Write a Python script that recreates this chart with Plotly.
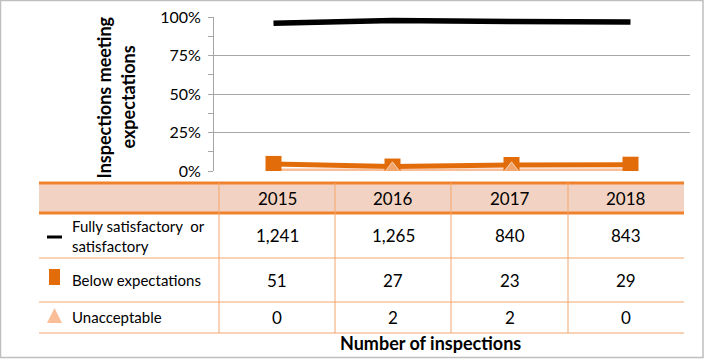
import plotly.graph_objects as go

W, H = 705, 359

years = ["2015", "2016", "2017", "2018"]
series_names = ["Fully satisfactory  or<br>satisfactory", "Below expectations", "Unacceptable"]
counts_full = ["1,241", "1,265", "840", "843"]
counts_below = ["51", "27", "23", "29"]
counts_unacc = ["0", "2", "2", "0"]
pct_full = [96.0, 97.8, 97.1, 96.7]
pct_below = [4.6, 2.9, 3.9, 4.1]
pct_unacc = [0.4, 0.4, 0.4, 0.4]
unacc_marker_size = [0, 17, 17, 0]
y_ticks = [0, 25, 50, 75, 100]
y_tick_labels = ["0%", "25%", "50%", "75%", "100%"]

FONT = "Lato"
BLACK = "#000000"
ORANGE = "#E36C0A"
PEACH = "#F9BE98"
GRID = "#A6A6A6"
TABLE_LINE = "#F0822E"
HEADER_BG = "#F2D2C2"

def px(x):
    return x / W

def py(y):
    return 1 - y / H

fig = go.Figure()
fig.add_trace(go.Scatter(x=years, y=pct_full, mode="lines",
                         line=dict(color=BLACK, width=5.5), showlegend=False))
fig.add_trace(go.Scatter(x=years, y=pct_unacc, mode="lines",
                         line=dict(color=PEACH, width=4), showlegend=False))
fig.add_trace(go.Scatter(x=years, y=pct_below, mode="lines+markers",
                         line=dict(color=ORANGE, width=5),
                         marker=dict(symbol="square", size=16, color=ORANGE),
                         showlegend=False))
fig.add_trace(go.Scatter(x=years, y=pct_unacc, mode="markers",
                         marker=dict(symbol="triangle-up", size=unacc_marker_size, color=PEACH),
                         showlegend=False))

shapes = []
annotations = []

def note(x, y, text, size=16, xanchor="center", angle=0, align="center"):
    annotations.append(dict(x=px(x), y=py(y), xref="paper", yref="paper",
                            text=text, showarrow=False, xanchor=xanchor,
                            yanchor="middle", textangle=angle, align=align,
                            font=dict(family=FONT, size=size, color="#000")))

# outer frame
shapes.append(dict(type="rect", xref="paper", yref="paper",
                   x0=px(0.5), x1=px(703), y0=py(357.5), y1=py(0.5),
                   line=dict(color="#BFBFBF", width=1.5)))

# table geometry
col_edges = [39, 219, 335, 451, 568, 684]
row_edges = [183, 213, 258, 302, 333]

shapes.append(dict(type="rect", xref="paper", yref="paper",
                   x0=px(col_edges[0]), x1=px(col_edges[-1]),
                   y0=py(row_edges[1]), y1=py(row_edges[0]),
                   fillcolor=HEADER_BG, line=dict(width=0), layer="below"))
for yy in row_edges[:2]:
    shapes.append(dict(type="line", xref="paper", yref="paper",
                       x0=px(col_edges[0]), x1=px(col_edges[-1]),
                       y0=py(yy), y1=py(yy), line=dict(color=TABLE_LINE, width=3)))
for yy in row_edges[2:]:
    shapes.append(dict(type="line", xref="paper", yref="paper",
                       x0=px(col_edges[0]), x1=px(col_edges[-1]),
                       y0=py(yy), y1=py(yy), line=dict(color="#F4A46A", width=1)))
for xx in col_edges[1:-1]:
    shapes.append(dict(type="line", xref="paper", yref="paper",
                       x0=px(xx), x1=px(xx),
                       y0=py(row_edges[0]), y1=py(row_edges[-1]),
                       line=dict(color="#F4A46A", width=1)))

# legend symbols
shapes.append(dict(type="line", xref="paper", yref="paper",
                   x0=px(47), x1=px(62), y0=py(237), y1=py(237),
                   line=dict(color=BLACK, width=3)))
shapes.append(dict(type="rect", xref="paper", yref="paper",
                   x0=px(49), x1=px(60), y0=py(285), y1=py(269),
                   fillcolor=ORANGE, line=dict(width=0)))
shapes.append(dict(type="path", xref="paper", yref="paper",
                   path=f"M {px(47)},{py(323)} L {px(62)},{py(323)} L {px(54.5)},{py(308)} Z",
                   fillcolor=PEACH, line=dict(width=0)))

for i, yr in enumerate(years):
    cx = (col_edges[i + 1] + col_edges[i + 2]) / 2
    note(cx, 198, yr, size=17)

row_centers = [235.5, 280, 317]
rows = [counts_full, counts_below, counts_unacc]
for r, vals in enumerate(rows):
    for i, v in enumerate(vals):
        cx = (col_edges[i + 1] + col_edges[i + 2]) / 2
        note(cx, row_centers[r], v, size=17)
    note(70, row_centers[r], series_names[r], size=15, xanchor="left", align="left")

note(430, 343, "<b>Number of inspections</b>", size=18)
note(103.5, 97, "<b>Inspections meeting</b>", size=18, angle=-90)
note(127.5, 97, "<b>expectations</b>", size=18, angle=-90)

fig.update_layout(
    width=W, height=H,
    margin=dict(l=0, r=0, t=0, b=0, pad=0),
    autosize=False,
    paper_bgcolor="white", plot_bgcolor="white",
    shapes=shapes, annotations=annotations,
    xaxis=dict(domain=[px(214), px(690)], range=[-0.5, 3.5], showticklabels=False,
               showgrid=False, zeroline=False, showline=False, ticks="", automargin=False),
    yaxis=dict(domain=[py(171), py(17)], range=[0, 100], automargin=False,
               tickvals=y_ticks, ticktext=y_tick_labels,
               showgrid=True, gridcolor=GRID, gridwidth=1, zeroline=False,
               showline=True, linecolor=GRID, linewidth=1,
               ticks="outside", ticklen=5, tickcolor=GRID,
               minor=dict(dtick=12.5, ticks="outside", ticklen=5, tickcolor=GRID, showgrid=False),
               tickfont=dict(family=FONT, size=16, color="#000"),
               ticklabelstandoff=4),
)

fig.write_html("out.html",
               config={"displayModeBar": False},
               post_script="document.body.style.margin='0';document.body.style.overflow='hidden';")
